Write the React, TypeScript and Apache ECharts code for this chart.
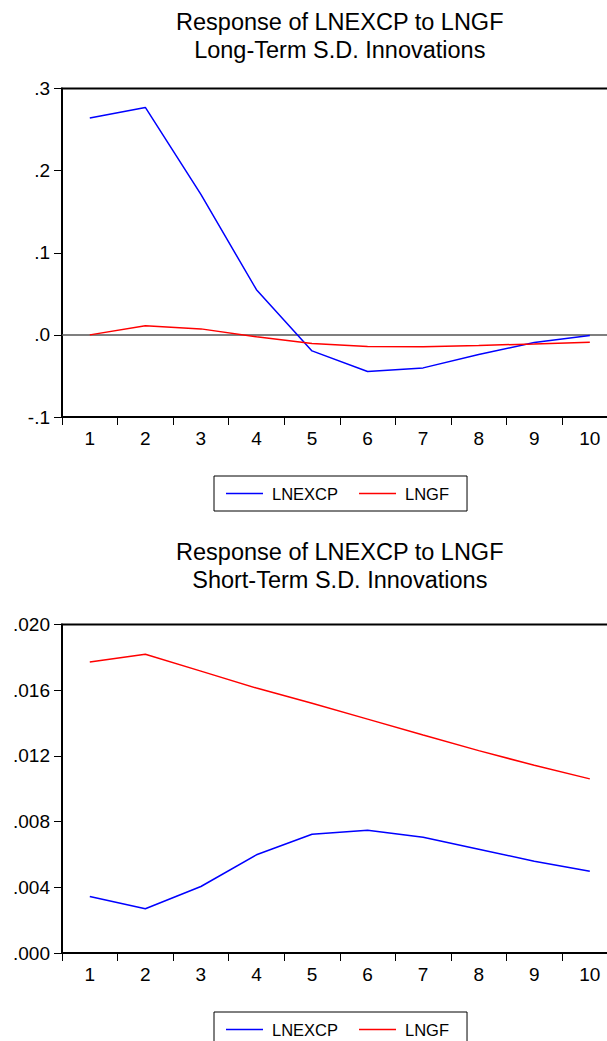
import { useEffect, useRef } from "react";
import * as echarts from "echarts";

const categories = ["1", "2", "3", "4", "5", "6", "7", "8", "9", "10"];
const seriesNames = ["LNEXCP", "LNGF"];

const longLNEXCP = [0.264, 0.277, 0.171, 0.055, -0.0195, -0.0446, -0.0402, -0.0239, -0.0093, -0.0007];
const longLNGF = [0.0, 0.011, 0.0073, -0.0024, -0.0105, -0.0141, -0.0146, -0.0129, -0.011, -0.0089];
const shortLNEXCP = [0.00344, 0.00269, 0.00405, 0.00598, 0.00723, 0.00748, 0.00705, 0.00632, 0.00559, 0.00498];
const shortLNGF = [0.01771, 0.01819, 0.01716, 0.01613, 0.0152, 0.01424, 0.01327, 0.01232, 0.01143, 0.0106];

const longAxis = { min: -0.1, max: 0.3, interval: 0.1, decimals: 1 };
const shortAxis = { min: 0, max: 0.02, interval: 0.004, decimals: 3 };

const titleMain = "Response of LNEXCP to LNGF";
const titleLong = "Long-Term S.D. Innovations";
const titleShort = "Short-Term S.D. Innovations";

const FONT = "'Liberation Sans', Arial, sans-serif";

function fmt(decimals: number) {
  return (v: number) => v.toFixed(decimals).replace(/^(-?)0\./, "$1.");
}

export default function App() {
  const ref = useRef<HTMLDivElement>(null);
  useEffect(() => {
    if (!ref.current) return;
    const chart = echarts.init(ref.current, undefined, { renderer: "svg" });
    const gridLeft = 62;
    const gridWidth = 555.6;
    const cx = gridLeft + gridWidth / 2;

    const xAxisBase = (gridIndex: number) => ({
      type: "category" as const,
      gridIndex,
      data: categories,
      boundaryGap: true,
      axisLine: { show: true, onZero: false, lineStyle: { color: "#000", width: 2 } },
      axisTick: { show: true, length: 8, inside: false, lineStyle: { color: "#000", width: 1 } },
      axisLabel: { color: "#000", fontSize: 19, fontFamily: FONT, margin: 12 },
      splitLine: { show: false },
    });
    const yAxisBase = (gridIndex: number, a: typeof longAxis) => ({
      type: "value" as const,
      gridIndex,
      min: a.min,
      max: a.max,
      interval: a.interval,
      axisLine: { show: true, onZero: false, lineStyle: { color: "#000", width: 2 } },
      axisTick: { show: true, length: 8, inside: false, lineStyle: { color: "#000", width: 1 } },
      axisLabel: { color: "#000", fontSize: 19, fontFamily: FONT, margin: 12, formatter: fmt(a.decimals) },
      splitLine: { show: false },
    });
    const legendBase = (top: number) => ({
      data: seriesNames.map((name) => ({ name, icon: "rect" })),
      left: 214,
      top,
      orient: "horizontal" as const,
      borderColor: "#000",
      borderWidth: 1,
      borderRadius: 0,
      padding: [9, 18, 9, 12],
      itemWidth: 37,
      itemHeight: 1.5,
      itemGap: 21,
      textStyle: { color: "#000", fontSize: 16.5, fontFamily: FONT, padding: [0, 0, 0, 4] },
      selectedMode: false,
    });
    const lineSeries = (name: string, data: number[], color: string, idx: number, extra: any = {}) => ({
      type: "line" as const,
      name,
      data,
      xAxisIndex: idx,
      yAxisIndex: idx,
      symbol: "none",
      showSymbol: false,
      lineStyle: { color, width: 1.5 },
      itemStyle: { color },
      z: 3,
      ...extra,
    });
    const titleText = (text: string, y: number) => ({
      type: "text" as const,
      style: {
        text,
        x: cx,
        y,
        textAlign: "center",
        textVerticalAlign: "middle",
        fill: "#000",
        font: `23.5px ${FONT}`,
      },
    });

    chart.setOption({
      animation: false,
      backgroundColor: "#fff",
      textStyle: { fontFamily: FONT },
      grid: [
        { left: gridLeft, top: 88.5, width: gridWidth, height: 328.5, show: true, borderColor: "#000", borderWidth: 2, backgroundColor: "transparent" },
        { left: gridLeft, top: 624.5, width: gridWidth, height: 328.5, show: true, borderColor: "#000", borderWidth: 2, backgroundColor: "transparent" },
      ],
      xAxis: [xAxisBase(0), xAxisBase(1)],
      yAxis: [yAxisBase(0, longAxis), yAxisBase(1, shortAxis)],
      legend: [legendBase(476), legendBase(1012)],
      graphic: [
        titleText(titleMain, 22),
        titleText(titleLong, 50),
        titleText(titleMain, 552),
        titleText(titleShort, 580),
      ],
      series: [
        lineSeries(seriesNames[0], longLNEXCP, "#0000FF", 0, {
          markLine: {
            silent: true,
            symbol: "none",
            label: { show: false },
            lineStyle: { color: "#555", width: 1.5, type: "solid" },
            data: [{ yAxis: 0 }],
            z: 1,
          },
        }),
        lineSeries(seriesNames[1], longLNGF, "#FF0000", 0),
        lineSeries(seriesNames[0], shortLNEXCP, "#0000FF", 1),
        lineSeries(seriesNames[1], shortLNGF, "#FF0000", 1),
      ],
    });
    return () => chart.dispose();
  }, []);

  return (
    <div style={{ position: "absolute", left: 0, top: 0, width: 607, height: 1041, overflow: "hidden", background: "#fff" }}>
      <div ref={ref} style={{ width: 660, height: 1041 }} />
    </div>
  );
}
